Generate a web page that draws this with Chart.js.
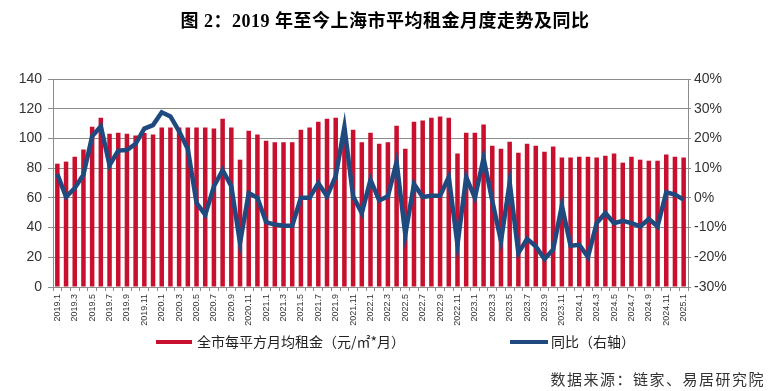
<!DOCTYPE html>
<html>
<head>
<meta charset="utf-8">
<script src="https://cdn.jsdelivr.net/npm/chart.js@4.4.1/dist/chart.umd.min.js"></script>
<style>
  body { margin: 0; background: #fff; }
  #wrap { position: relative; width: 770px; height: 391px; font-family: "Noto Sans CJK SC", sans-serif; color: #222; }
  #title { position: absolute; left: 0; top: 6px; width: 770px; text-align: center; font: bold 18px "Liberation Serif", "Noto Sans CJK SC", serif; letter-spacing: 0.5px; color: #000; }
  .key { position: absolute; height: 4px; top: 340px; }
  .lbl { position: absolute; top: 331px; font-size: 14px; white-space: nowrap; }
  #src { position: absolute; right: 5px; top: 368px; font-size: 15px; letter-spacing: 1.5px; color: #333; }
</style>
</head>
<body>
<div id="wrap">
  <canvas id="rentChart" width="770" height="391"></canvas>
  <div id="title">图 2：2019 年至今上海市平均租金月度走势及同比</div>
  <div class="key" style="left:156px;width:36px;background:#c8102e"></div>
  <div class="lbl" style="left:197px">全市每平方月均租金（元/㎡*月）</div>
  <div class="key" style="left:510px;width:38px;background:#1f4a7f"></div>
  <div class="lbl" style="left:551px">同比（右轴）</div>
  <div id="src">数据来源：链家、易居研究院</div>
</div>
<script>
// months 2019.1 .. 2025.1
const months = [];
for (let y = 2019; y <= 2025; y++) {
  for (let m = 1; m <= 12; m++) {
    if (y === 2025 && m > 1) break;
    months.push(y + '.' + m);
  }
}

// 全市每平方月均租金（元/㎡*月）
const rent = [
  83.0, 84.4, 87.7, 92.5, 107.9, 114.0, 103.2, 103.9, 103.2, 101.9, 103.7, 102.6,
  107.3, 107.3, 107.3, 107.3, 107.3, 107.3, 106.6, 113.3, 107.3, 85.7, 105.2, 102.6,
  98.5, 97.4, 97.4, 97.4, 105.9, 107.3, 111.3, 113.3, 114.0, 107.0, 105.9, 97.4,
  103.9, 96.5, 97.4, 108.6, 93.1, 111.3, 112.0, 114.0, 114.7, 114.0, 89.8, 103.9,
  103.9, 109.3, 95.1, 93.1, 97.8, 90.4, 96.5, 95.1, 91.1, 94.5, 87.1, 87.1,
  87.7, 87.7, 87.1, 88.4, 89.8, 83.7, 87.7, 85.7, 85.0, 85.0, 89.1, 87.7,
  87.1
];

// 同比（%）
const yoy = [
  8.0, 0.3, 3.3, 7.8, 20.7, 24.1, 11.0, 15.9, 16.1, 18.2, 23.3, 24.5,
  28.8, 27.4, 22.4, 16.4, -1.7, -5.7, 3.9, 9.3, 3.9, -15.2, 1.6, 0.0,
  -8.2, -9.0, -9.4, -9.4, 0.0, 0.0, 5.0, 0.5, 7.3, 23.9, 0.5, -5.1,
  6.1, -0.9, 0.5, 12.1, -12.4, 4.7, 0.3, 0.7, 0.7, 7.0, -15.8, 7.0,
  0.0, 13.4, -1.0, -14.6, 5.2, -18.6, -13.8, -16.3, -20.6, -17.4, -2.6, -16.1,
  -15.8, -19.9, -8.5, -5.1, -8.5, -7.7, -8.5, -9.6, -7.1, -9.6, 1.9, 1.1,
  -0.6
];

const gridGrey = '#8c8c8c';
const tickFont = { family: 'Liberation Sans', size: 14 };

new Chart(document.getElementById('rentChart'), {
  type: 'bar',
  data: {
    labels: months,
    datasets: [
      {
        type: 'line',
        label: '同比（右轴）',
        data: yoy,
        yAxisID: 'y1',
        borderColor: '#1f4a7f',
        borderWidth: 4.5,
        pointRadius: 0,
        tension: 0,
        order: 1
      },
      {
        label: '全市每平方月均租金（元/㎡*月）',
        data: rent,
        yAxisID: 'y',
        backgroundColor: '#c8102e',
        categoryPercentage: 1,
        barPercentage: 0.52,
        order: 2
      }
    ]
  },
  options: {
    responsive: false,
    animation: false,
    layout: { padding: { top: 79, bottom: 64, left: 0, right: 0 } },
    plugins: {
      legend: { display: false },
      tooltip: { enabled: false }
    },
    scales: {
      x: {
        offset: true,
        grid: { drawOnChartArea: false, drawTicks: true, tickLength: 4, color: gridGrey },
        border: { color: gridGrey },
        ticks: {
          autoSkip: false,
          maxRotation: 90,
          minRotation: 90,
          padding: 3,
          color: '#333',
          font: { family: 'Liberation Sans', size: 9 },
          callback: (v, i) => (i % 2 === 0 ? months[i] : '')
        },
        afterFit: (s) => { s.height = 40; }
      },
      y: {
        position: 'left',
        min: 0,
        max: 140,
        ticks: { stepSize: 20, color: '#333', font: tickFont, padding: 6 },
        grid: { color: gridGrey, tickLength: 5 },
        border: { color: gridGrey },
        afterFit: (s) => { s.width = 53; }
      },
      y1: {
        position: 'right',
        min: -30,
        max: 40,
        ticks: { stepSize: 10, color: '#333', font: tickFont, padding: 3, callback: (v) => v + '%' },
        grid: { drawOnChartArea: false, color: gridGrey, tickLength: 3 },
        border: { color: gridGrey },
        afterFit: (s) => { s.width = 82; }
      }
    }
  }
});
</script>
</body>
</html>
